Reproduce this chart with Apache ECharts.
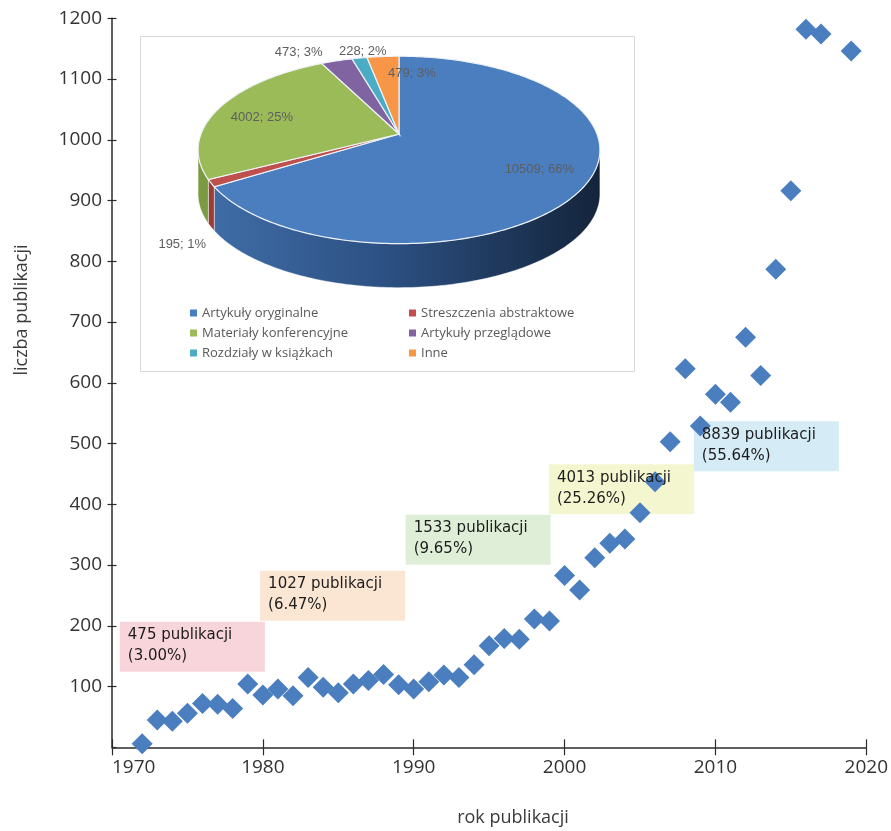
<!DOCTYPE html>
<html><head><meta charset="utf-8">
<script src="https://cdn.jsdelivr.net/npm/echarts@6/dist/echarts.min.js"></script>
<style>html,body{margin:0;padding:0;background:#fff}#c{width:891px;height:831px}</style>
</head><body><div id="c"></div>
<script>
// ---------- data ----------
const years = [1972,1973,1974,1975,1976,1977,1978,1979,1980,1981,1982,1983,1984,1985,1986,1987,1988,1989,
  1990,1991,1992,1993,1994,1995,1996,1997,1998,1999,2000,2001,2002,2003,2004,2005,2006,2007,2008,2009,
  2010,2011,2012,2013,2014,2015,2016,2017,2019];
const publications = [6,45,43,56,72,71,64,104,86,96,85,115,99,90,104,110,120,103,
  96,108,119,115,136,167,179,178,211,208,283,259,312,336,343,386,437,503,623,529,
  581,568,675,612,787,916,1182,1174,1146];
const xTickYears = [1970,1980,1990,2000,2010,2020];
const yTicks = [100,200,300,400,500,600,700,800,900,1000,1100,1200];
const decadeCounts = [475,1027,1533,4013,8839];
const decadeShares = [3.00,6.47,9.65,25.26,55.64];
const pieNames = ['Artykuły oryginalne','Streszczenia abstraktowe','Materiały konferencyjne','Artykuły przeglądowe','Rozdziały w książkach','Inne'];
const pieValues = [10509,195,4002,473,228,479];

// ---------- layout / style ----------
const boxAnchors = [[1970.55,206],[1979.85,290],[1989.5,382],[1999.0,465],[2008.6,536]];
const boxColors = ['#f8d5db','#fbe5d3','#dfeed7','#f4f6d0','#d5ecf6'];
const pieColors = ['#4a7ebf','#c0504d','#9bbb59','#8064a2','#4bacc6','#f79646'];
const sideFills = [
  {type:'linear',x:0,y:0,x2:1,y2:0,colorStops:[{offset:0,color:'#3f6ca6'},{offset:0.45,color:'#2c5082'},{offset:1,color:'#14243b'}]},
  '#9c3c39','#7b9a42','#5f4a7a','#3a8aa0','#c7783a'];
const PIE = {cx:399, cy:134, rx:198, ry:91, k:0.17, depth:44};
const labelLayout = [{r:0.76,d:0},{r:1.17,d:-4,side:true},{r:0.74,d:-3},{r:1.22,d:-8},{r:1.09,d:2},{r:0.76,d:11}];

// ---------- helpers ----------
const total = pieValues.reduce((a,b)=>a+b,0);
function lrPercents(vals){
  const raw = vals.map(v=>v/total*100);
  const fl = raw.map(Math.floor);
  let rem = 100 - fl.reduce((a,b)=>a+b,0);
  const order = raw.map((r,i)=>i).sort((a,b)=>(raw[b]-fl[b])-(raw[a]-fl[a]));
  for(let j=0;j<rem;j++) fl[order[j]]++;
  return fl;
}
const piePct = lrPercents(pieValues);
const startA = [], endA = [];
{ let acc=0; pieValues.forEach((v,i)=>{ startA.push(acc/total*360); acc+=v; endA.push(acc/total*360); }); }
function proj(r, tDeg, dy){
  const t = tDeg*Math.PI/180;
  const u = r*Math.sin(t), v = -r*Math.cos(t);
  const d = 1 - PIE.k*v;
  return [PIE.cx + PIE.rx*u/d, PIE.cy + PIE.ry*v/d + (dy||0)];
}
const tMin = Math.acos(-PIE.k)*180/Math.PI, tMax = 360 - tMin;

function renderSide(params, api){
  const i = params.dataIndex;
  const a = Math.max(startA[i], tMin), b = Math.min(endA[i], tMax);
  if (b <= a) return {type:'group', children:[]};
  const top = [];
  for(let t=a;t<b;t+=1) top.push(proj(1,t));
  top.push(proj(1,b));
  const bottom = top.map(p=>[p[0], p[1]+PIE.depth]).reverse();
  return {type:'polygon', shape:{points: top.concat(bottom)},
    style:{fill: sideFills[i], stroke:'rgba(255,255,255,0.55)', lineWidth:0.8}};
}
function makeTop(i){
  return function(params, api){
    const pts = [[PIE.cx, PIE.cy]];
    for(let t=startA[i]; t<endA[i]; t+=1) pts.push(proj(1,t));
    pts.push(proj(1,endA[i]));
    const L = labelLayout[i];
    const mid = (startA[i]+endA[i])/2 + L.d;
    const lp = proj(L.r, mid, L.side ? PIE.depth : 0);
    return {type:'group', children:[
      {type:'polygon', shape:{points:pts}, style:{fill:pieColors[i], stroke:'#eef2f7', lineWidth:1.2}},
      {type:'text', x:lp[0], y:lp[1], z2:20, style:{text: api.value(0)+'; '+piePct[i]+'%', fill:'#5e5e5e',
        font:'13px "Liberation Sans", Arial, sans-serif', align:'center', verticalAlign:'middle'}}
    ]};
  };
}

// ---------- chart ----------
const chart = echarts.init(document.getElementById('c'));
const axisFont = {fontFamily:'"Open Sans", sans-serif', fontSize:19, color:'#333', formatter: v => String(v)};
const boxLabel = (textColor) => ({
  show:true, position:[0,0], align:'left', verticalAlign:'top',
  formatter: p => decadeCounts[p.dataIndex] + ' publikacji\n(' + decadeShares[p.dataIndex].toFixed(2) + '%)',
  fontFamily:'"DejaVu Sans", sans-serif', fontSize:15, lineHeight:21, width:129,
  padding:[3,8,5,8], color:textColor, opacity:1
});

const series = [
  {type:'scatter', name:'boxes', z:1, silent:true, symbol:'rect', symbolSize:1,
    itemStyle:{color:'rgba(0,0,0,0)'}, label: boxLabel('rgba(0,0,0,0)'),
    data: boxAnchors.map((a,i)=>({value:a, label:{backgroundColor: boxColors[i]}}))},
  {type:'scatter', name:'publikacje', z:2, silent:true, symbol:'diamond', symbolSize:21,
    itemStyle:{color:'#4a7ebf', opacity:1}, data: years.map((y,i)=>[y, publications[i]])},
  {type:'scatter', name:'boxText', z:5, silent:true, symbol:'rect', symbolSize:1,
    itemStyle:{color:'#000', opacity:0}, label: boxLabel('#1c1c1c'),
    data: boxAnchors.map(a=>({value:a}))},
  {type:'custom', name:'side', coordinateSystem:'none', z:6, silent:true,
    data: pieValues.map(v=>[v]), renderItem: renderSide}
];
pieNames.forEach((n,i)=>{
  series.push({type:'custom', name:n, coordinateSystem:'none', z:7, silent:true,
    itemStyle:{color:pieColors[i]}, data:[[pieValues[i]]], renderItem: makeTop(i)});
});

const legendCommon = {orient:'vertical', top:303, padding:0, itemGap:0, icon:'rect', itemWidth:7, itemHeight:7,
  selectedMode:false, textStyle:{fontFamily:'"Open Sans", sans-serif', fontSize:13, color:'#595959', lineHeight:20}};

chart.setOption({
  animation:false,
  backgroundColor:'#fff',
  grid:{left:112, right:23.7, top:18.3, bottom:83.7, containLabel:false},
  xAxis:[
    {type:'value', min:xTickYears[0], max:xTickYears[xTickYears.length-1], interval:10,
      axisLine:{show:true, lineStyle:{color:'#2b2b2b', width:1.5}},
      axisTick:{show:true, inside:false, length:8, lineStyle:{color:'#2b2b2b', width:1.2}},
      axisLabel:Object.assign({margin:11, alignMinLabel:'left'}, axisFont),
      splitLine:{show:false}},
    {type:'value', min:xTickYears[0], max:xTickYears[xTickYears.length-1], interval:10, position:'bottom',
      axisLine:{show:false}, axisTick:{show:true, inside:true, length:8, lineStyle:{color:'#2b2b2b', width:1.2}},
      axisLabel:{show:false}, splitLine:{show:false}}
  ],
  yAxis:[
    {type:'value', min:0, max:yTicks[yTicks.length-1], interval:100,
      axisLine:{show:true, lineStyle:{color:'#2b2b2b', width:1.5}},
      axisTick:{show:true, inside:false, length:4.5, lineStyle:{color:'#2b2b2b', width:1.2}},
      axisLabel:Object.assign({margin:10, showMinLabel:false}, axisFont),
      splitLine:{show:false}},
    {type:'value', min:0, max:yTicks[yTicks.length-1], interval:100, position:'left',
      axisLine:{show:false}, axisTick:{show:true, inside:true, length:4.5, lineStyle:{color:'#2b2b2b', width:1.2}},
      axisLabel:{show:false}, splitLine:{show:false}}
  ],
  legend:[
    Object.assign({left:190, data:[pieNames[0],pieNames[2],pieNames[4]]}, legendCommon),
    Object.assign({left:409, data:[pieNames[1],pieNames[3],pieNames[5]]}, legendCommon)
  ],
  graphic:[
    {type:'rect', z:-1, silent:true, shape:{x:140.5,y:36.5,width:494,height:335},
      style:{fill:'#fff', stroke:'#d9d9d9', lineWidth:1}},
    {type:'text', x:22, y:310, rotation:Math.PI/2, silent:true,
      style:{text:'liczba publikacji', font:'18px "Open Sans", sans-serif', fill:'#3a3a3a', align:'center', verticalAlign:'middle'}},
    {type:'text', x:513, y:818, silent:true,
      style:{text:'rok publikacji', font:'18px "Open Sans", sans-serif', fill:'#3a3a3a', align:'center', verticalAlign:'middle'}}
  ],
  series: series
});
</script></body></html>
